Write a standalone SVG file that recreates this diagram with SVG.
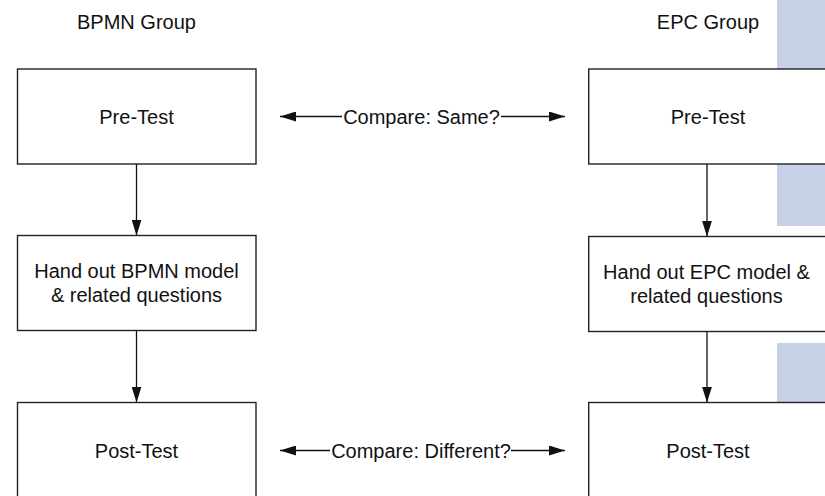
<svg xmlns="http://www.w3.org/2000/svg" width="825" height="496" viewBox="0 0 825 496">
<style>
  .box { fill: #ffffff; stroke: #222; stroke-width: 1.4; }
  .t { font-family: "Liberation Sans", Arial, sans-serif; font-size: 20px; fill: #111; text-anchor: middle; }
  .c { stroke: #111; stroke-width: 1.3; fill: none; }
  .band { fill: #c6d0e6; }
</style>
<defs>
  <marker id="ah" viewBox="0 0 16 10" refX="16" refY="5" markerWidth="16" markerHeight="10" markerUnits="userSpaceOnUse" orient="auto-start-reverse">
    <path d="M0,0 L16,5 L0,10 Z" fill="#111"/>
  </marker>
</defs>
<rect width="825" height="496" fill="#ffffff"/>
<rect class="band" x="777" y="0" width="48" height="226"/>
<rect class="band" x="777" y="343" width="48" height="70"/>

<text class="t" x="136.5" y="29">BPMN Group</text>
<text class="t" x="708" y="29">EPC Group</text>

<g id="connectors">
  <path class="c" d="M136.5,164 V235.5" marker-end="url(#ah)"/>
  <path class="c" d="M136.5,330.5 V402.5" marker-end="url(#ah)"/>
  <path class="c" d="M707,164 V236.5" marker-end="url(#ah)"/>
  <path class="c" d="M707,331.5 V402.5" marker-end="url(#ah)"/>
  <path class="c" d="M342,116.5 H280" marker-end="url(#ah)"/>
  <path class="c" d="M501,116.5 H565" marker-end="url(#ah)"/>
  <text class="t" x="421.5" y="123.5">Compare: Same?</text>
  <path class="c" d="M330,450.5 H280" marker-end="url(#ah)"/>
  <path class="c" d="M511,450.5 H565" marker-end="url(#ah)"/>
  <text class="t" x="421" y="457.5">Compare: Different?</text>
</g>

<g id="bpmn-pretest">
  <rect class="box" x="17.5" y="69" width="238.5" height="95"/>
  <text class="t" x="136.5" y="123.5">Pre-Test</text>
</g>
<g id="bpmn-handout">
  <rect class="box" x="17.5" y="235.5" width="238.5" height="95"/>
  <text class="t" x="136.5" y="277.5">Hand out BPMN model</text>
  <text class="t" x="136.5" y="301.5">&amp; related questions</text>
</g>
<g id="bpmn-posttest">
  <rect class="box" x="17.5" y="402.5" width="238.5" height="95"/>
  <text class="t" x="136.5" y="457.5">Post-Test</text>
</g>
<g id="epc-pretest">
  <rect class="box" x="588.7" y="69" width="238.5" height="95"/>
  <text class="t" x="708" y="123.5">Pre-Test</text>
</g>
<g id="epc-handout">
  <rect class="box" x="588.7" y="236.5" width="238.5" height="95"/>
  <text class="t" x="706.5" y="278.5">Hand out EPC model &amp;</text>
  <text class="t" x="706.5" y="302.5">related questions</text>
</g>
<g id="epc-posttest">
  <rect class="box" x="588.7" y="402.5" width="238.5" height="95"/>
  <text class="t" x="708" y="457.5">Post-Test</text>
</g>
</svg>
